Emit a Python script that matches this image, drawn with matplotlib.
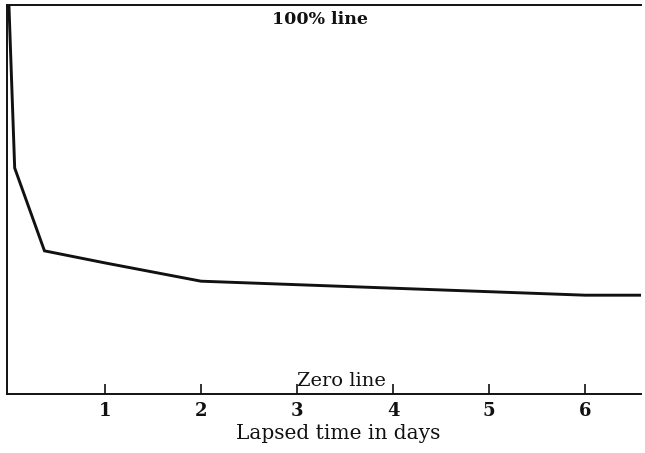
import matplotlib
matplotlib.use('Agg')
import matplotlib.pyplot as plt

# Retention curve: lapsed time (days) vs percent retained
DAYS = [0.0, 0.06, 0.37, 1.0, 2.0, 6.0, 6.58]
RETAINED = [100.0, 58.1, 36.8, 33.7, 29.0, 25.4, 25.4]
XTICKS = [1, 2, 3, 4, 5, 6]

plt.rcParams['font.family'] = ['DejaVu Serif']

fig = plt.figure(figsize=(6.45, 4.53), dpi=100)
ax = fig.add_axes([7 / 645, 59 / 453, 634 / 645, 389 / 453])

ax.plot(DAYS, RETAINED, color='#111111', lw=2.1, solid_joinstyle='miter')

ax.set_xlim(-0.02, 6.58)
ax.set_ylim(0, 100)
for side in ['left', 'top', 'bottom']:
    ax.spines[side].set_linewidth(1.4)
    ax.spines[side].set_color('#111111')
ax.spines['right'].set_visible(False)

ax.set_xticks(XTICKS)
ax.set_xticklabels([str(t) for t in XTICKS], fontsize=13, fontweight='bold')
ax.tick_params(axis='x', direction='in', length=7.5, width=1.2, pad=6,
               colors='#111111')
ax.set_yticks([])

ax.text(0.494, 0.985, '100% line', transform=ax.transAxes, ha='center',
        va='top', fontsize=12.5, fontweight='bold', color='#111111')
ax.text(0.528, 0.02, 'Zero line', transform=ax.transAxes, ha='center',
        va='baseline', fontsize=14, color='#111111')

fig.text(338 / 645, 14 / 453, 'Lapsed time in days', ha='center',
         va='baseline', fontsize=14.5, color='#111111')

fig.savefig('out.png', dpi=100)
